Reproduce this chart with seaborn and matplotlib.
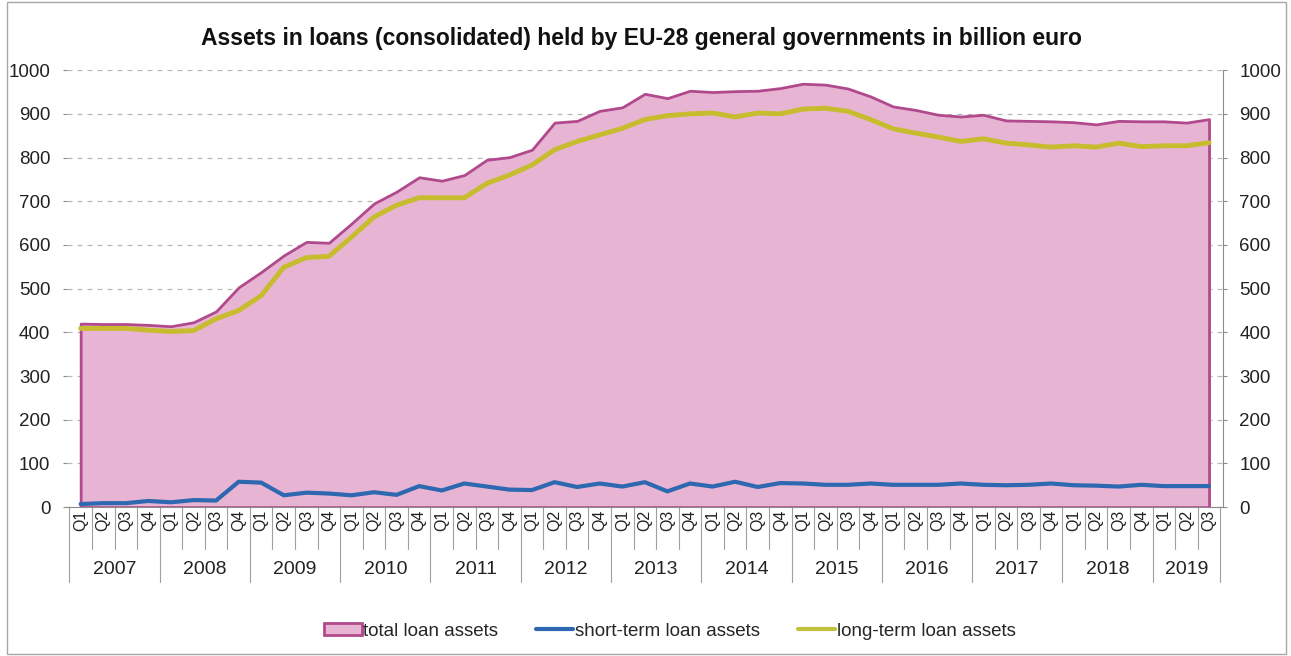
import numpy as np
import pandas as pd
import matplotlib
matplotlib.use("Agg")
import matplotlib.pyplot as plt
from matplotlib.patches import Patch, Rectangle
from matplotlib.lines import Line2D
import seaborn as sns

years = ["2007", "2008", "2009", "2010", "2011", "2012", "2013",
         "2014", "2015", "2016", "2017", "2018", "2019"]
quarters = ["Q1", "Q2", "Q3", "Q4"] * 12 + ["Q1", "Q2", "Q3"]

total = [420, 419, 419, 417, 414, 423, 448, 503, 538, 576, 607, 605,
         649, 695, 722, 755, 747, 760, 795, 801, 818, 880, 884, 907,
         915, 946, 936, 953, 950, 952, 953, 959, 969, 967, 958, 940,
         917, 909, 898, 894, 898, 885, 884, 883, 881, 876, 884, 883,
         883, 880, 888]
long_term = [409, 409, 409, 405, 402, 404, 431, 450, 484, 549, 571, 574,
             618, 664, 691, 708, 708, 708, 741, 760, 783, 818, 837, 852,
             867, 887, 896, 900, 902, 893, 902, 900, 911, 913, 906, 887,
             866, 856, 847, 837, 843, 833, 829, 824, 827, 824, 833, 825,
             827, 827, 834]
short_term = [7, 9, 9, 14, 11, 16, 15, 58, 56, 27, 33, 31,
              27, 34, 28, 48, 38, 54, 47, 40, 39, 57, 46, 54,
              47, 57, 36, 54, 47, 58, 46, 55, 54, 51, 51, 54,
              51, 51, 51, 54, 51, 50, 51, 54, 50, 49, 47, 51,
              48, 48, 48]

df = pd.DataFrame({"i": np.arange(len(total)), "quarter": quarters,
                   "total": total, "long": long_term, "short": short_term})

pink = "#E8B4D4"
magenta = "#B04A8C"
blue = "#2D68B0"
olive = "#C6BC2E"

sns.set_style("white")
plt.rcParams["font.family"] = ["Liberation Sans", "DejaVu Sans"]

fig = plt.figure(figsize=(12.91, 6.56), dpi=100)
ax = fig.add_axes([0.052, 0.227, 0.895, 0.666])

ax.fill_between(df["i"], df["total"], color=pink, edgecolor=magenta,
                linewidth=2, zorder=2)
sns.lineplot(data=df, x="i", y="long", color=olive, linewidth=3.5, ax=ax, zorder=3)
sns.lineplot(data=df, x="i", y="short", color=blue, linewidth=3, ax=ax, zorder=3)

ax.set_xlim(-0.6, len(total) - 0.4)
ax.set_ylim(0, 1000)
ax.set_yticks(range(0, 1001, 100))
ax.yaxis.grid(True, color="#B8B8B8", linestyle=(0, (4, 4)), linewidth=0.9)
ax.set_axisbelow(True)
ax.set_xlabel("")
ax.set_ylabel("")

for s in ["top", "left"]:
    ax.spines[s].set_visible(False)
ax.spines["right"].set_color("#8C8C8C")
ax.spines["bottom"].set_color("#8C8C8C")
ax.tick_params(axis="y", labelsize=13.5, labelright=True, right=True, left=True,
               length=3, width=0.8, color="#8C8C8C", pad=9, labelcolor="#222222")

ax.set_xticks(df["i"])
ax.set_xticklabels(df["quarter"], rotation=90, fontsize=11.5, color="#222222")
ax.tick_params(axis="x", length=0, pad=2)

# multi-level category separators
xt = ax.get_xaxis_transform()
for b in np.arange(len(total) + 1) - 0.5:
    year_edge = (b + 0.5) % 4 == 0 or b == len(total) - 0.5
    ax.plot([b, b], [0, -0.172 if year_edge else -0.096], transform=xt,
            color="#A0A0A0", linewidth=0.8, clip_on=False)
for k, y in enumerate(years):
    start = k * 4
    end = min(start + 4, len(total))
    ax.text((start + end - 1) / 2, -0.142, y, transform=xt, ha="center",
            va="center", fontsize=14, color="#222222")

fig.text(0.497, 0.942, "Assets in loans (consolidated) held by EU-28 general governments in billion euro",
         ha="center", va="center", fontsize=16.5, fontweight="bold", color="#111111")

handles = [Patch(facecolor=pink, edgecolor=magenta, linewidth=2),
           Line2D([], [], color=blue, linewidth=3),
           Line2D([], [], color="#BFC23A", linewidth=3)]
fig.legend(handles, ["total loan assets", "short-term loan assets", "long-term loan assets"],
           loc="center", bbox_to_anchor=(0.519, 0.038), ncol=3, frameon=False,
           fontsize=13.5, handlelength=2.0, handleheight=0.55, handletextpad=0.1,
           columnspacing=2.0)

fig.add_artist(Rectangle((0.0055, 0.003), 0.991, 0.994, transform=fig.transFigure,
                         fill=False, edgecolor="#A8A8A8", linewidth=1))

fig.savefig("out.png", dpi=100)
